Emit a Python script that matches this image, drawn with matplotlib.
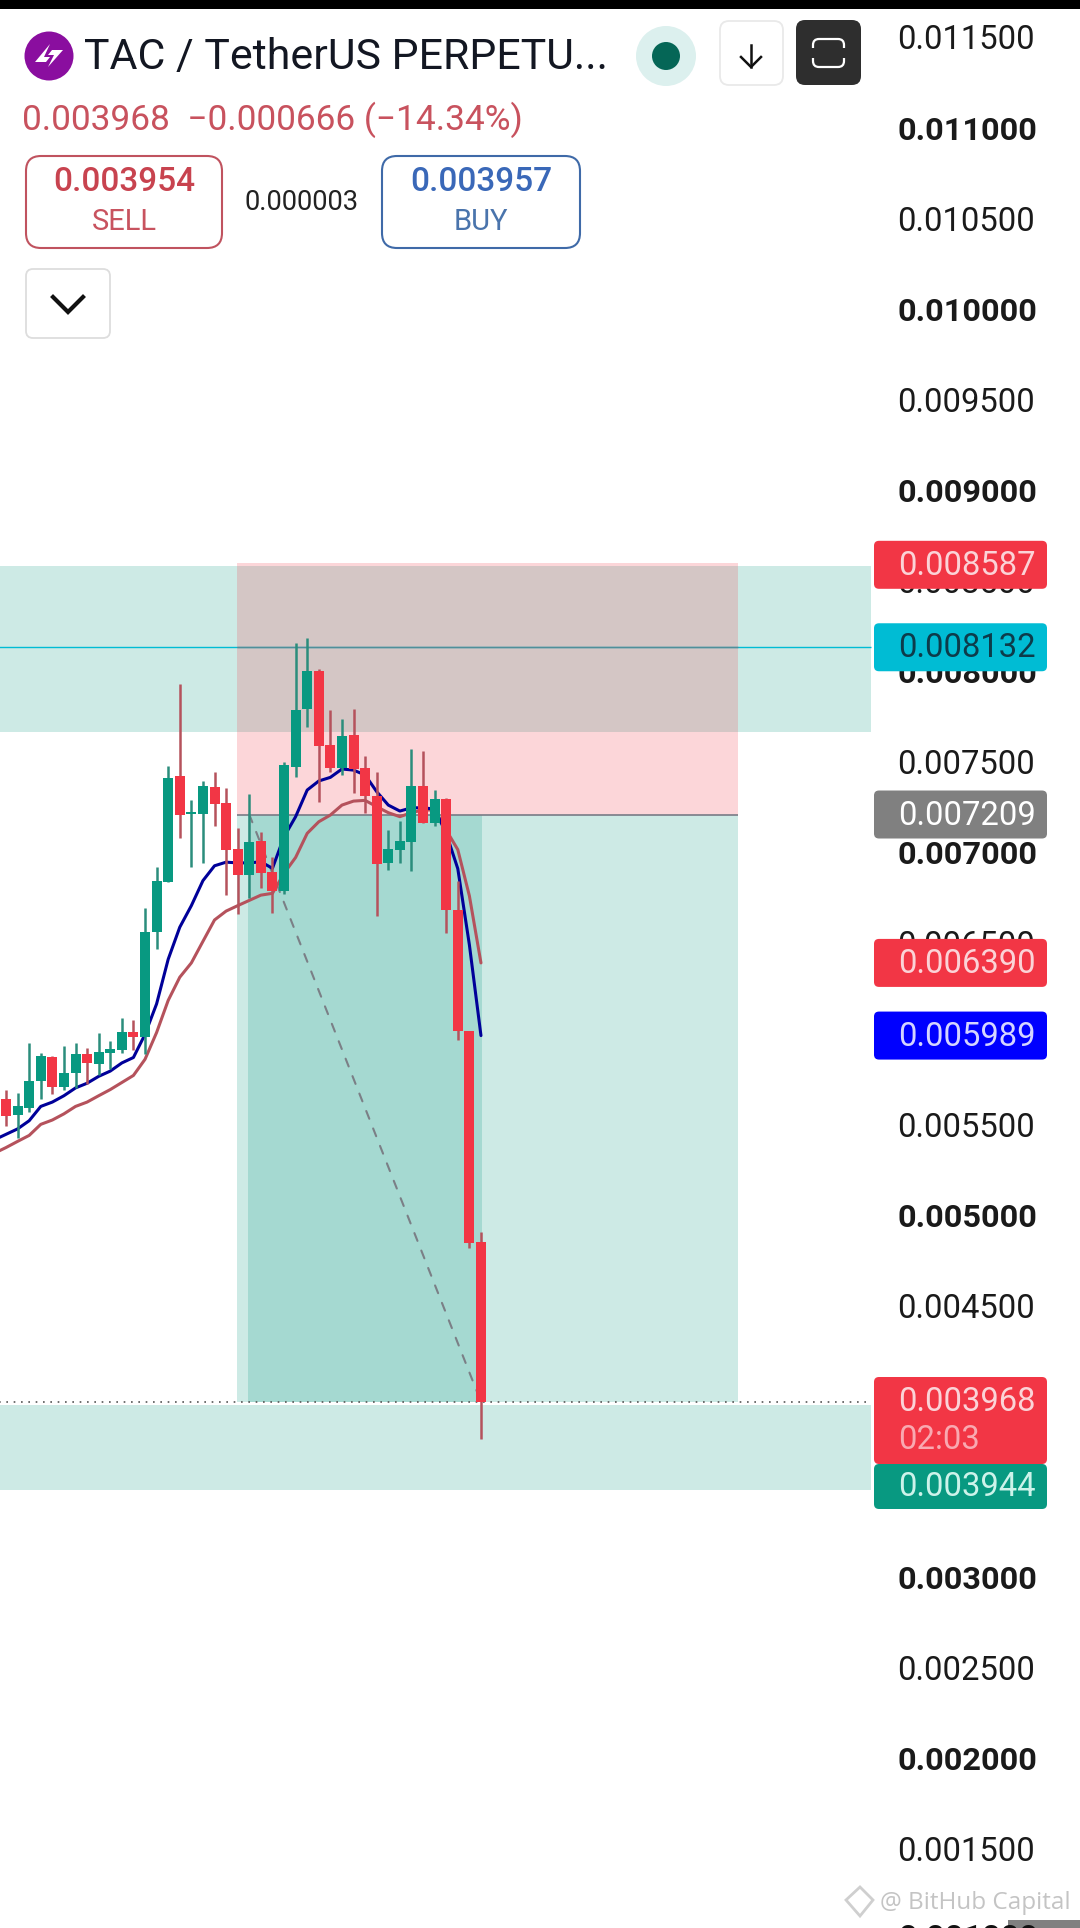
import matplotlib
matplotlib.use("Agg")
import matplotlib.pyplot as plt
from matplotlib.patches import FancyBboxPatch, Rectangle, Circle, Polygon, PathPatch
from matplotlib.path import Path

plt.rcParams['font.family'] = ['Roboto', 'DejaVu Sans']

# ---------- data (prices x 1e-6) ----------
opens = [5637,5552,5592,5740,5870,5706,5785,5886,5834,5895,5911,6006,5982,6558,6838,7421,7214,7214,7360,7271,7017,6877,
         7062,6891,6788,7473,7789,8001,7591,7464,7646,7464,7309,6941,7013,7059,7364,7164,7294,6681,6016,4851]
closes = [5547,5598,5736,5874,5704,5785,5886,5838,5901,5915,6006,5982,6558,6840,7413,7208,7222,7366,7269,7015,6877,7055,
          6888,6788,7482,7786,8001,7589,7467,7642,7462,7309,6937,7016,7061,7364,7164,7293,6680,6012,4844,3968]
highs = [5691,5671,5947,5894,5874,5931,5947,5923,6002,5957,6085,6075,6692,6922,7474,7928,7287,7395,7441,7356,7133,7323,
         7110,6976,7497,8154,8181,8010,7786,7736,7791,7532,7441,7123,7173,7568,7559,7344,7302,6844,6016,4906]
lows = [5488,5424,5566,5637,5669,5691,5700,5720,5769,5803,5892,5907,5888,6469,6838,7080,6922,6942,7143,6765,6662,6749,
        6805,6667,6770,7418,7694,7280,7445,7425,7329,7215,6650,6904,6943,6899,7160,7147,6556,5964,4815,3762]
ma_blue = [5414,5444,5474,5519,5598,5622,5657,5700,5726,5764,5793,5838,5868,5996,6164,6410,6587,6706,6844,6926,6946,6942,6942,
           6948,6912,7086,7197,7344,7394,7414,7460,7454,7427,7335,7261,7228,7246,7246,7239,7105,6910,6490,5989]
ma_red = [5340,5371,5405,5438,5499,5523,5557,5598,5622,5657,5691,5730,5769,5858,6006,6183,6311,6390,6509,6627,6676,6706,6735,
          6764,6774,6884,6972,7105,7169,7206,7261,7283,7287,7252,7219,7197,7219,7234,7234,7123,7015,6760,6390]
tick_prices = [11500,11000,10500,10000,9500,9000,8500,8000,7500,7000,6500,6000,5500,5000,4500,4000,3500,3000,2500,2000,1500]
bold_ticks = [11000,10000,9000,8000,7000,6000,5000,4000,3000,2000]
zone_top = (8580, 7664)
zone_bottom = (3950, 3481)
entry_price = 7209
stop_price = 8597
target_price = 3968
resistance = 8132
last_price = 3968
tag_prices = [8587, 8132, 7209, 6390, 5989]
tag_fills = ['#f23645', '#00bcd4', '#808080', '#f23645', '#0000ff']
tag_texts = ['#fbd3d7', '#0d3b4a', '#ffffff', '#fbd3d7', '#d5d5ff']

P = 1e-6
GREEN, RED = '#089981', '#f23645'
W, H = 1080, 1928
fig = plt.figure(figsize=(W/100, H/100), dpi=100, facecolor='white')
ax = fig.add_axes([0, 0, 1, 1])
ax.set_xlim(0.482, 93.71)
ax.set_ylim(0.001064, 0.011704)
ax.set_axisbelow(True)
for s in ax.spines.values():
    s.set_visible(False)
ax.set_xticks([])
ax.yaxis.tick_right()
ax.set_yticks([p*P for p in tick_prices])
ax.set_yticklabels([f"{p*P:.6f}" for p in tick_prices])
ax.tick_params(axis='y', length=0, pad=-131.5, labelcolor='#1a1a1a')
for lab, p in zip(ax.get_yticklabels(), tick_prices):
    lab.set_fontweight('bold' if p in bold_ticks else 'normal')
    lab.set_fontsize(23.4 if p in bold_ticks else 23.6)

TEAL = (8/255, 153/255, 129/255, 0.2)
PINK = (242/255, 54/255, 69/255, 0.2)
# zones
ZR = 75.67
ax.add_patch(Rectangle((0, zone_top[1]*P), ZR, (zone_top[0]-zone_top[1])*P, fc=TEAL, ec='none', zorder=1))
ax.add_patch(Rectangle((0, zone_bottom[1]*P), ZR, (zone_bottom[0]-zone_bottom[1])*P, fc=TEAL, ec='none', zorder=1))
ax.hlines(resistance*P, 0, ZR, color='#00bcd4', lw=1.0, zorder=1.2)
# long/short position box
XL, XR, XM, XE = 20.94, 64.19, 21.89, 42.09
ax.add_patch(Rectangle((XL, entry_price*P), XR-XL, (stop_price-entry_price)*P, fc=PINK, ec='none', zorder=1.5))
ax.add_patch(Rectangle((XL, target_price*P), XR-XL, (entry_price-target_price)*P, fc=TEAL, ec='none', zorder=1.5))
ax.add_patch(Rectangle((XM, target_price*P), XE-XM, (entry_price-target_price)*P, fc=TEAL, ec='none', zorder=1.6))
ax.hlines(resistance*P, XL, XR, color='#4f8f9a', lw=1.0, zorder=1.7)
ax.hlines(entry_price*P, XL, XR, color='#787b86', lw=1.2, zorder=1.7)
ax.hlines(last_price*P, 0, ZR, color='#555555', lw=1.2, linestyles=(0, (1, 3.4)), zorder=1.8)
# path arrow
ax.annotate('', xy=(42, target_price*P), xytext=(22, entry_price*P),
            arrowprops=dict(arrowstyle='->', color='#7b7f86', lw=1.5, linestyle=(0, (4, 5)), shrinkA=0, shrinkB=0),
            zorder=1.9)

# moving averages, then candles over them
idx_ma = list(range(len(ma_blue)))
ax.plot(idx_ma, [v*P for v in ma_red], color='#b5525c', lw=2.2, zorder=2.2, solid_capstyle='round')
ax.plot(idx_ma, [v*P for v in ma_blue], color='#000099', lw=2.2, zorder=2.3, solid_capstyle='round')
for i, (o, c, h, l) in enumerate(zip(opens, closes, highs, lows), start=1):
    up = c >= o
    ax.vlines(i, l*P, h*P, color='#2b8d7c' if up else '#b5525c', lw=1.8, zorder=2.5)
    ax.bar(i, abs(c-o)*P, bottom=min(o, c)*P, width=0.863, color=GREEN if up else RED, zorder=2.6, linewidth=0)

# ---------- overlay in pixel coordinates ----------
ui = fig.add_axes([0, 0, 1, 1], facecolor='none', zorder=5)
ui.set_xlim(0, W)
ui.set_ylim(H, 0)
ui.axis('off')

def rbox(x0, y0, x1, y1, r, fc='white', ec='none', lw=1.5, z=2):
    ui.add_patch(FancyBboxPatch((x0+r, y0+r), x1-x0-2*r, y1-y0-2*r,
                                boxstyle=f"round,pad={r},rounding_size={r}", fc=fc, ec=ec, lw=lw, zorder=z))

def ypx(price):
    return H - ax.transData.transform((0, price*P))[1]

# top bar
ui.add_patch(Rectangle((0, 0), W, 9, fc='black', ec='none'))
# symbol icon
ui.add_patch(Circle((49, 56), 24.5, fc='#8a0e9f', ec='none'))
ui.add_patch(Polygon([(50, 44), (35, 62), (46, 62), (50, 57), (44, 57)], fc='white', ec='none', zorder=3))
ui.add_patch(Polygon([(48, 67), (63, 50), (52, 50), (48, 55), (54, 55)], fc='white', ec='none', zorder=3))
ui.text(84, 58, 'TAC / TetherUS PERPETU...', fontsize=30.9, color='#131722', va='center', ha='left')
# status dot
ui.add_patch(Circle((666, 56), 30, fc='#dcf0ee', ec='none'))
ui.add_patch(Circle((666, 56), 14, fc='#056656', ec='none'))
# arrow button
rbox(720, 21, 783, 85, 9, ec='#e9e9e9', lw=1.3)
ui.plot([751, 751], [45, 67], color='#111111', lw=1.8, zorder=3)
ui.plot([741, 751, 761], [57, 67, 57], color='#111111', lw=1.8, zorder=3)
# dark button
rbox(796, 20, 861, 85, 9, fc='#2e2e2e')
for a, b in ((39, 48), (67, 58)):
    s = 1 if a < b else -1
    ui.add_patch(PathPatch(Path([(813, b), (813, a+6*s), (813, a), (819, a), (838, a), (844, a), (844, a+6*s), (844, b)],
                                [Path.MOVETO, Path.LINETO, Path.CURVE3, Path.CURVE3, Path.LINETO, Path.CURVE3, Path.CURVE3, Path.LINETO]),
                           fc='none', ec='white', lw=1.6, zorder=3))
# price line
ui.text(22, 120, '0.003968  \u22120.000666 (\u221214.34%)', fontsize=25.4, color='#c8525e', va='center', ha='left')
# sell / buy
rbox(26, 156, 222, 248, 15, ec='#c0535f', lw=1.5)
rbox(382, 156, 580, 248, 15, ec='#3f6aa8', lw=1.5)
ui.text(124, 182, '0.003954', fontsize=24, color='#c8434f', va='center', ha='center', fontweight='medium')
ui.text(124, 222, 'SELL', fontsize=21, color='#c8535f', va='center', ha='center')
ui.text(302, 202, '0.000003', fontsize=19.7, color='#222222', va='center', ha='center')
ui.text(481, 182, '0.003957', fontsize=24, color='#3a68b8', va='center', ha='center', fontweight='medium')
ui.text(481, 222, 'BUY', fontsize=21, color='#4a74ac', va='center', ha='center')
# chevron
rbox(26, 269, 110, 338, 7, ec='#dddddd', lw=1.3)
ui.plot([53, 68, 83], [297, 312, 297], color='#111111', lw=3, zorder=3, solid_joinstyle='miter')

# price tags
TX = 874; TE = 1047; TT = 898
for p, fc, tc in zip(tag_prices, tag_fills, tag_texts):
    yc = ypx(p)
    rbox(TX, yc-24, TE, yc+24, 5, fc=fc)
    ui.text(TT, yc+1, f"{p*P:.6f}", fontsize=23.6, color=tc, va='center', ha='left', zorder=3)
rbox(TX, 1377, TE, 1464, 5, fc='#f23645')
ui.text(TT, 1402, '0.003968', fontsize=23.6, color='#fbd3d7', va='center', ha='left', zorder=3)
ui.text(TT, 1440, '02:03', fontsize=23.6, color='#f9a9b1', va='center', ha='left', zorder=3)
rbox(TX, 1464, TE, 1509, 5, fc='#089981', z=2.5)
ui.text(TT, 1487, '0.003944', fontsize=23.6, color='#cdf3ea', va='center', ha='left', zorder=3)

# bottom fragments and watermark
ui.text(TT, 1938, '0.001000', fontsize=23.4, color='#111111', va='center', ha='left', fontweight='bold', clip_on=True)
ui.add_patch(Rectangle((1008, 1920), 72, 8, fc='#808080', ec='none'))
ui.add_patch(Polygon([(860, 1887), (873, 1900), (860, 1916), (846, 1900)], fc='none', ec='#cfcfcf', lw=2, zorder=3))
ui.text(880, 1903, '@ BitHub Capital', fontsize=17.5, color='#c4c4c4', va='center', ha='left', family='Open Sans', zorder=3)

fig.savefig('out.png', dpi=100, facecolor='white')
